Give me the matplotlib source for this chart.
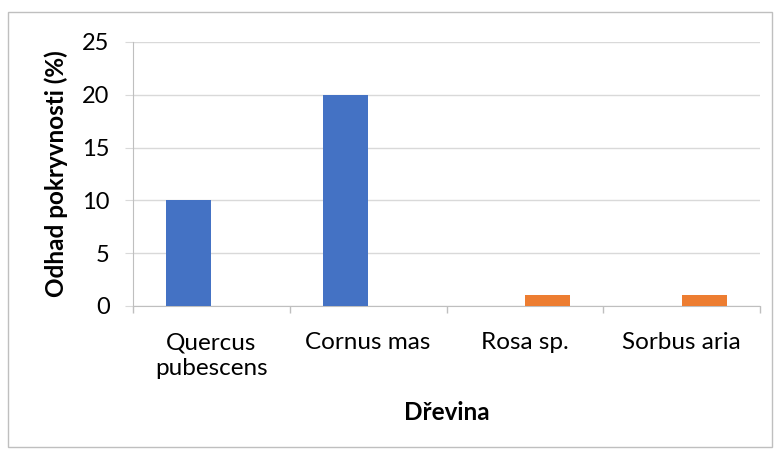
import matplotlib
matplotlib.use("Agg")
import matplotlib.pyplot as plt
import numpy as np
from matplotlib.patches import Rectangle

categories = ["Quercus\npubescens", "Cornus mas", "Rosa sp.", "Sorbus aria"]
series_blue = [10, 20, 0, 0]
series_orange = [0, 0, 1, 1]
yticks = [0, 5, 10, 15, 20, 25]

plt.rcParams['font.family'] = ['Lato', 'DejaVu Sans']

fig = plt.figure(figsize=(7.8, 4.55), dpi=100)
W, H = 780, 455
ax = fig.add_axes([133/W, 1-306/H, (760-133)/W, (306-42)/H])

x = np.arange(len(categories))
bw = 0.287
ax.bar(x - bw/2, series_blue, bw, color="#4472C4", zorder=3)
ax.bar(x + bw/2, series_orange, bw, color="#ED7D31", zorder=3)

ax.set_xlim(-0.5, len(categories) - 0.5)
ax.set_ylim(0, 25)
ax.set_yticks(yticks)
ax.set_yticklabels([str(v) for v in yticks], fontsize=17)
ax.yaxis.grid(True, color="#d9d9d9", linewidth=1, zorder=0)
ax.tick_params(axis='y', length=5.8, color="#d9d9d9", pad=11)

ax.set_xticks(x)
ax.set_xticklabels(categories, fontsize=17.5, linespacing=1.25)
ax.tick_params(axis='x', length=0, pad=19)
ax.set_xticks(np.arange(len(categories) + 1) - 0.5, minor=True)
ax.tick_params(axis='x', which='minor', length=5, color="#bfbfbf", width=1)

for s in ['top', 'right']:
    ax.spines[s].set_visible(False)
ax.spines['left'].set_color("#bfbfbf")
ax.spines['bottom'].set_color("#bfbfbf")

ax.set_ylabel("Odhad pokryvnosti (%)", fontsize=17.5, fontweight='bold', labelpad=10)
ax.set_xlabel("Dřevina", fontsize=17.5, fontweight='bold', labelpad=16)

fig.patches.append(Rectangle((8/W, 1-447/H), (772-8)/W, (447-12)/H,
                             transform=fig.transFigure, fill=False,
                             edgecolor="#bfbfbf", linewidth=1))

fig.savefig("out.png", dpi=100)
